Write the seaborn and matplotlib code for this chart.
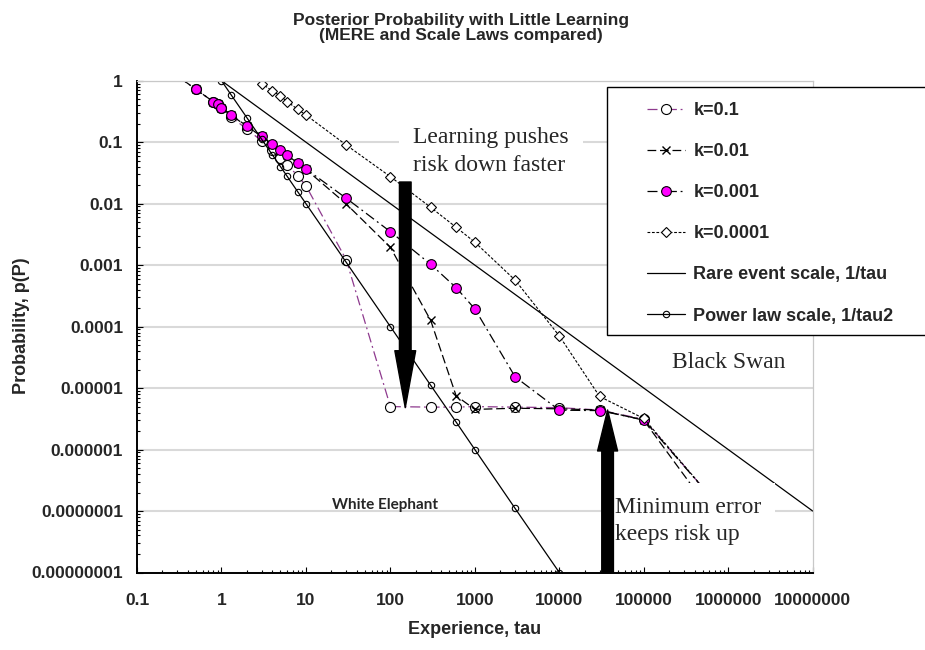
import numpy as np
import pandas as pd
import matplotlib
matplotlib.use("Agg")
import matplotlib.pyplot as plt
import seaborn as sns
from matplotlib.patches import Rectangle
from matplotlib.ticker import LogLocator, NullFormatter

# experience values shared by the four MERE curves
tau = [0.2, 0.5, 0.8, 0.9, 1, 1.3, 2, 3, 4, 5, 6, 8, 10, 30, 100, 300, 600,
       1000, 3000, 10000, 30000, 100000, 1000000]
nan = np.nan
p_k01 = [1.8, 0.72, 0.456, 0.413, 0.364, 0.26, 0.162, 0.105, 0.0747, 0.0547, 0.0426,
         0.0285, 0.0196, 0.00122, 5e-6, 4.9e-6, 4.9e-6, 5e-6, 4.9e-6, 4.8e-6,
         4.4e-6, 3.1e-6, 8e-8]
p_k001 = [1.8, 0.72, 0.456, 0.413, 0.364, 0.277, 0.18, 0.124, 0.091, 0.073, 0.061,
          0.045, 0.036, 0.0099, 0.00195, 1.26e-4, 7.5e-6, 4.5e-6, 4.7e-6, 4.6e-6,
          4.4e-6, 3.0e-6, 4e-8]
p_k0001 = [1.8, 0.72, 0.456, 0.413, 0.364, 0.277, 0.183, 0.126, 0.0925, 0.0738, 0.0619,
           0.0454, 0.0367, 0.01225, 0.0035, 0.00103, 4.3e-4, 1.94e-4, 1.52e-5,
           4.37e-6, 4.3e-6, 3.04e-6, 8e-8]
p_k00001 = [nan, nan, nan, nan, nan, nan, 1.36, 0.9, 0.68, 0.564, 0.456, 0.343, 0.277,
            0.09, 0.0275, 0.0087, 0.00413, 0.00236, 5.7e-4, 7.06e-5, 7.3e-6, 3.2e-6, 8e-8]

tau_rare = [1, 10000000]
p_rare = [1, 1e-7]

tau_power = [1, 1.3, 2, 3, 4, 5, 6, 8, 10, 30, 100, 300, 600, 1000, 3000, 10000]
p_power = [1, 0.59, 0.25, 0.111, 0.0625, 0.04, 0.0278, 0.0156, 0.01, 0.00111,
           1e-4, 1.11e-5, 2.8e-6, 1e-6, 1.1e-7, 1e-8]

x_ticks = [0.1, 1, 10, 100, 1000, 10000, 100000, 1000000, 10000000]
x_tick_labels = ["0.1", "1", "10", "100", "1000", "10000", "100000", "1000000", "10000000"]
y_ticks = [1, 0.1, 0.01, 0.001, 0.0001, 0.00001, 0.000001, 0.0000001, 0.00000001]
y_tick_labels = ["1", "0.1", "0.01", "0.001", "0.0001", "0.00001", "0.000001",
                 "0.0000001", "0.00000001"]

sns.set_theme(style="white")
plt.rcParams["font.family"] = ["Liberation Sans", "DejaVu Sans"]
plt.rcParams["font.weight"] = "bold"

W, H = 925, 650
fig = plt.figure(figsize=(W / 100, H / 100), dpi=100)
ax = fig.add_axes([137 / W, 1 - 572.5 / H, (812.7 - 137) / W, (572.5 - 80.7) / H])
ax.set_xscale("log")
ax.set_yscale("log")

mere = pd.DataFrame({"tau": tau, "k=0.1": p_k01, "k=0.01": p_k001,
                     "k=0.001": p_k0001, "k=0.0001": p_k00001})

lw = 0.9
sns.lineplot(data=mere, x="tau", y="k=0.1", ax=ax, legend=False, label="k=0.1",
             color="#8e3a8e", lw=lw, linestyle=(0, (8, 3, 1.5, 3)),
             marker="o", markersize=7.2, markerfacecolor="white",
             markeredgecolor="black", markeredgewidth=0.8)
sns.lineplot(data=mere, x="tau", y="k=0.01", ax=ax, legend=False, label="k=0.01",
             color="black", lw=lw, linestyle=(0, (7, 3)),
             marker="x", markersize=5.5, markeredgecolor="black", markeredgewidth=1.0)
sns.lineplot(data=mere, x="tau", y="k=0.001", ax=ax, legend=False, label="k=0.001",
             color="black", lw=lw, linestyle=(0, (8, 3, 1.5, 3)),
             marker="o", markersize=7.0, markerfacecolor="#ff00ff",
             markeredgecolor="black", markeredgewidth=0.8)
sns.lineplot(data=mere.dropna(), x="tau", y="k=0.0001", ax=ax, legend=False,
             label="k=0.0001", color="black", lw=0.8, linestyle=(0, (2.5, 1.5)),
             marker="D", markersize=4.6, markerfacecolor="white",
             markeredgecolor="black", markeredgewidth=0.8)
sns.lineplot(x=tau_rare, y=p_rare, ax=ax, legend=False, label="Rare event scale, 1/tau",
             color="black", lw=lw)
sns.lineplot(x=tau_power, y=p_power, ax=ax, legend=False,
             label="Power law scale, 1/tau2", color="black", lw=lw,
             marker="o", markersize=4.6, markerfacecolor="none",
             markeredgecolor="black", markeredgewidth=0.8)

ax.set_xlim(0.1, 1e7)
ax.set_ylim(1e-8, 1)
ax.set_xticks(x_ticks, labels=x_tick_labels)
ax.set_yticks(y_ticks, labels=y_tick_labels)
ax.xaxis.set_minor_locator(LogLocator(base=10, subs=range(2, 10), numticks=20))
ax.yaxis.set_minor_locator(LogLocator(base=10, subs=range(2, 10), numticks=20))
ax.xaxis.set_minor_formatter(NullFormatter())
ax.yaxis.set_minor_formatter(NullFormatter())
ax.tick_params(which="both", direction="in", color="black", width=0.8,
               labelsize=12.5, bottom=True, left=True)
ax.tick_params(which="major", length=4)
ax.tick_params(which="minor", length=2.2)
ax.tick_params(axis="x", pad=15)
ax.tick_params(axis="y", pad=10)
for lab in ax.get_xticklabels() + ax.get_yticklabels():
    lab.set_fontweight("bold")

ax.grid(False)
ax.yaxis.grid(True, which="major", color="#d9d9d9", lw=1.5)
ax.set_axisbelow(True)
for side in ["left", "bottom"]:
    ax.spines[side].set_color("black")
    ax.spines[side].set_linewidth(1.4)
for side in ["top", "right"]:
    ax.spines[side].set_color("#c8c8c8")
    ax.spines[side].set_linewidth(0.9)

ax.set_xlabel("Experience, tau", fontsize=13, fontweight="bold", labelpad=9)
ax.set_ylabel("")
fig.text(22 / W, 1 - 326 / H, "Probability, p(P)", rotation=90, ha="center",
         va="center", fontsize=13, fontweight="bold")

fig.text(0.4985, 1 - 28 / H, "Posterior Probability with Little Learning\n(MERE and Scale Laws compared)",
         ha="center", va="center", fontsize=12.5, fontweight="bold", linespacing=1.05)

serif = ["Liberation Serif", "DejaVu Serif"]
box = dict(boxstyle="square,pad=0.6", facecolor="white", edgecolor="none")
ax.text(186, 0.07, "Learning pushes\nrisk down faster", family=serif, fontsize=17,
        fontweight="normal", ha="left", va="center", linespacing=1.4, bbox=box, zorder=5)
ax.text(45700, 6.9e-8, "Minimum error\nkeeps risk up", family=serif, fontsize=17,
        fontweight="normal", ha="left", va="center", linespacing=1.4, bbox=box, zorder=5)
ax.text(216000, 2.57e-5, "Black Swan", family=serif, fontsize=17,
        fontweight="normal", ha="left", va="center", zorder=5)
ax.text(87, 1.26e-7, "White Elephant", family=["Lato", "DejaVu Sans"], fontsize=11,
        fontweight="bold", ha="center", va="center", zorder=5)

ax.annotate("", xy=(150, 4.8e-6), xytext=(150, 0.0225), zorder=7,
            arrowprops=dict(facecolor="black", edgecolor="black", width=8.4,
                            headwidth=15, headlength=41, shrink=0))
ax.annotate("", xy=(37300, 4.4e-6), xytext=(37300, 1e-8), zorder=7,
            arrowprops=dict(facecolor="black", edgecolor="black", width=8.4,
                            headwidth=14.4, headlength=29.5, shrink=0))

# legend frame runs past the right edge of the picture, as in the original
fig.patches.append(Rectangle((607 / W, 1 - 335 / H), (940 - 607) / W, (335 - 87) / H,
                             transform=fig.transFigure, facecolor="white",
                             edgecolor="black", lw=1.0, zorder=3))
handles, labels = ax.get_legend_handles_labels()
fig.legend(handles, labels, loc="upper left", bbox_to_anchor=(633 / W, 1 - 88 / H),
           bbox_transform=fig.transFigure, frameon=False,
           prop={"weight": "bold", "size": 13}, handlelength=2.1,
           handletextpad=0.45, labelspacing=1.33, borderpad=0.3)

fig.savefig("out.png", dpi=100)
